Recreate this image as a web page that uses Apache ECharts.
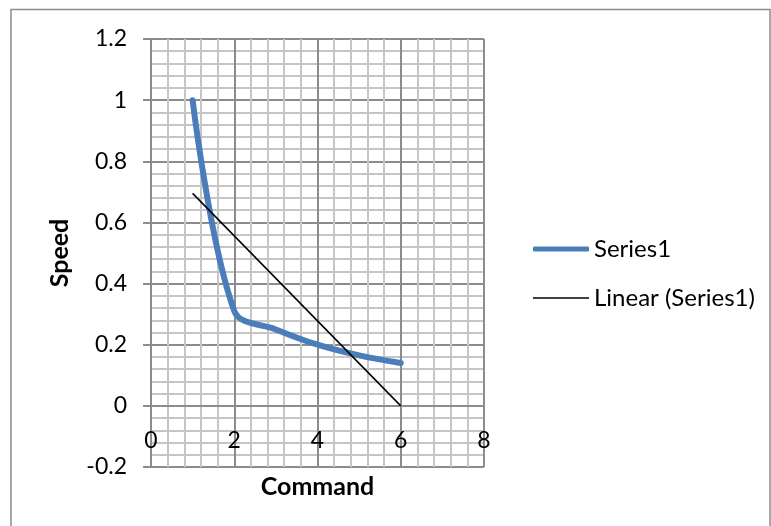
<!DOCTYPE html>
<html>
<head>
<meta charset="utf-8">
<script src="https://cdn.jsdelivr.net/npm/echarts@6/dist/echarts.min.js"></script>
<style>
  html, body { margin: 0; padding: 0; background: #fff; }
  #main { width: 771px; height: 526px; }
</style>
</head>
<body>
<div id="main"></div>
<script>
// values
const commandX = [1, 2, 3, 4, 5, 6]
const speedY = [1.0, 0.31, 0.25, 0.20, 0.165, 0.14]
// linear trendline end points
const trendX = [1, 6]
const trendY = [0.695, 0.0]
const xTicks = [0, 2, 4, 6, 8]
const yMin = -0.2, yMax = 1.2

const font = 'Lato'
const chart = echarts.init(document.getElementById('main'))

const pairs = (xs, ys) => xs.map((x, i) => [x, ys[i]])
const legendText = { fontFamily: font, fontSize: 24, color: '#000' }

// grid box, the x axis is lifted from the bottom edge to y = 0
const gridTop = 39, gridBottom = 59, gridH = 526 - gridTop - gridBottom
const zeroLift = gridH * (0 - yMin) / (yMax - yMin)

chart.setOption({
  animation: false,
  grid: { left: 151, right: 287, top: gridTop, bottom: gridBottom, outerBoundsMode: 'none', containLabel: false },
  graphic: [{
    type: 'rect',
    shape: { x: 11, y: 9.5, width: 759, height: 540 },
    style: { fill: 'none', stroke: '#8c8c8c', lineWidth: 1.5 },
    silent: true
  }],
  legend: [
    {
      orient: 'vertical',
      left: 528,
      top: 232,
      icon: 'roundRect',
      itemWidth: 56,
      itemHeight: 5,
      itemGap: 0,
      textStyle: legendText,
      data: ['Series1']
    },
    {
      orient: 'vertical',
      left: 528,
      top: 281,
      icon: 'rect',
      itemWidth: 56,
      itemHeight: 1.5,
      itemGap: 0,
      textStyle: legendText,
      data: ['Linear (Series1)']
    }
  ],
  xAxis: {
    type: 'value',
    min: xTicks[0],
    max: xTicks[xTicks.length - 1],
    interval: 2,
    offset: -zeroLift,
    name: 'Command',
    nameLocation: 'middle',
    nameGap: 69,
    nameTextStyle: { fontFamily: font, fontSize: 25, fontWeight: 'bold', color: '#000' },
    axisLine: { onZero: false, lineStyle: { color: '#8c8c8c', width: 2 } },
    axisTick: { show: false },
    axisLabel: { fontFamily: font, fontSize: 23, color: '#000', margin: 23 },
    splitLine: { show: true, lineStyle: { color: '#8c8c8c', width: 2 } },
    minorTick: { show: false, splitNumber: 5 },
    minorSplitLine: { show: true, lineStyle: { color: '#c6c6c6', width: 2 } }
  },
  yAxis: {
    type: 'value',
    min: yMin,
    max: yMax,
    interval: 0.2,
    name: 'Speed',
    nameLocation: 'middle',
    nameGap: 79,
    nameTextStyle: { fontFamily: font, fontSize: 25, fontWeight: 'bold', color: '#000' },
    axisLine: { onZero: false, lineStyle: { color: '#8c8c8c', width: 2 } },
    axisTick: { show: true, length: 8, lineStyle: { color: '#8c8c8c', width: 2 } },
    axisLabel: { fontFamily: font, fontSize: 23, color: '#000', margin: 24,
      formatter: v => String(Math.round(v * 10) / 10) },
    splitLine: { show: true, lineStyle: { color: '#8c8c8c', width: 2 } },
    minorTick: { show: false, splitNumber: 5 },
    minorSplitLine: { show: true, lineStyle: { color: '#c6c6c6', width: 2 } }
  },
  series: [
    {
      name: 'Series1',
      type: 'line',
      data: pairs(commandX, speedY),
      smooth: 0.35,
      symbol: 'none',
      lineStyle: { color: '#4a7ebb', width: 6, cap: 'round', join: 'round' },
      itemStyle: { color: '#4a7ebb' },
      z: 3
    },
    {
      name: 'Linear (Series1)',
      type: 'line',
      data: pairs(trendX, trendY),
      symbol: 'none',
      lineStyle: { color: '#000', width: 1.5 },
      itemStyle: { color: '#000' },
      z: 4
    }
  ]
})
</script>
</body>
</html>
